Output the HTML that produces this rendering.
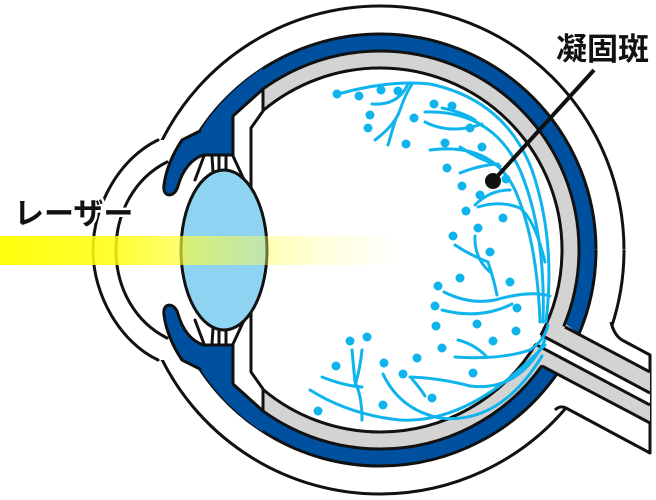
<!DOCTYPE html>
<html><head><meta charset="utf-8"><style>
html,body{margin:0;padding:0;background:#fff;}
svg{display:block;}
</style></head><body>
<svg width="656" height="500" viewBox="0 0 656 500" xmlns="http://www.w3.org/2000/svg">
<defs>
<linearGradient id="beam" x1="0" y1="0" x2="400" y2="0" gradientUnits="userSpaceOnUse">
<stop offset="0" stop-color="#ffff00" stop-opacity="0.95"/>
<stop offset="0.3" stop-color="#ffff10" stop-opacity="0.85"/>
<stop offset="0.55" stop-color="#ffff40" stop-opacity="0.55"/>
<stop offset="1" stop-color="#ffff80" stop-opacity="0"/>
</linearGradient>
</defs>
<circle cx="380" cy="250" r="244" fill="#fff"/>
<circle cx="380" cy="250" r="244" fill="none" stroke="#111" stroke-width="3" pathLength="360" stroke-dasharray="18.3 22 113.3 52.8 153.6"/>
<path d="M611,322 Q614,335 622,340 L650,355 L650,453 L566,408 Q560,405 555,410 L540,360 Z" fill="#fff"/>
<path d="M611,322 Q614,335 622,340 L650,355 L650,453 L566,408 Q560,405 555,410" fill="none" stroke="#111" stroke-width="3" stroke-linejoin="round"/>
<circle cx="380" cy="250" r="216" fill="#0050a0"/>
<circle cx="380" cy="250" r="199" fill="#d3d3d3"/>
<circle cx="380" cy="250" r="182" fill="#fff"/>
<polygon points="563,322 579,334 650,372 650,393 541,335" fill="#d3d3d3"/>
<polygon points="535,344 650,405 650,423 556,374 541,365" fill="#d3d3d3"/>
<polygon points="530,338 541,335 650,393 650,405 535,344" fill="#fff"/>
<g stroke="#111" stroke-width="3" fill="none">
<circle cx="380" cy="250" r="216" pathLength="360" stroke-dasharray="23 12 117.3 55.4 152.3"/>
<circle cx="380" cy="250" r="199" pathLength="360" stroke-dasharray="22.6 12.9 102.2 84.6 137.7"/>
<circle cx="380" cy="250" r="182" pathLength="360" stroke-dasharray="27.9 3.3 98.9 99.8 130.1"/>
<line x1="565" y1="327" x2="650" y2="372"/>
<line x1="541" y1="335" x2="650" y2="393"/>
<line x1="535" y1="344" x2="650" y2="405"/>
<line x1="542" y1="366" x2="650" y2="423"/>
</g>
<path d="M158,140 C120,158 93,205 93,250 C93,295 120,342 158,360 L200,360 L200,140 Z" fill="#fff"/>
<path d="M233,116 L233,155 L203,155 C190,160 182,172 178,186 C175,198 162,198 164,185 C166,170 172,155 180,145 L110,145 L110,355 L180,355 C172,345 166,330 164,315 C162,302 175,302 178,314 C182,328 190,340 203,345 L233,345 L233,384 L263,411 L263,89 Z" fill="#fff"/>
<!-- iris / anterior choroid blue -->
<g fill="#0050a0">
<path d="M263,89 L233,116 L233,155 L203,155 C190,160 182,172 178,186 C175,198 162,198 164,185 C166,170 172,155 182,140 L200,131 A216,216 0 0 1 263,68 Z"/>
<path d="M263,411 L233,384 L233,345 L203,345 C190,340 182,328 178,314 C175,302 162,302 164,315 C166,330 172,345 182,360 L200,369 A216,216 0 0 0 263,432 Z"/>
</g>
<g stroke="#111" stroke-width="3" fill="none" stroke-linejoin="round" stroke-linecap="round">
<path d="M263,89 L233,116 L233,155 L203,155 C190,160 182,172 178,186 C175,198 162,198 164,185 C166,170 172,155 182,140 L200,131"/>
<path d="M263,411 L233,384 L233,345 L203,345 C190,340 182,328 178,314 C175,302 162,302 164,315 C166,330 172,345 182,360 L200,369"/>
<path d="M158,140 C120,158 93,205 93,250 C93,295 120,342 158,360"/>
<path d="M167,162 C135,178 116,212 116,250 C116,288 135,322 167,338"/>
<path d="M263,89 L263,111 L251,128 L251,190"/>
<path d="M263,411 L263,389 L251,372 L251,310"/>
<path d="M204,156 L195,180 M212,156 L213,172 M219,156 L219,172 M226,156 L226,172 M233,156 L246,184"/>
<path d="M204,344 L195,320 M212,344 L213,328 M219,344 L219,328 M226,344 L226,328 M233,344 L246,316"/>
</g>
<ellipse cx="224" cy="250" rx="43" ry="80" fill="#8fd3f3" stroke="#111" stroke-width="3"/>
<g stroke="#10b4ec" stroke-width="3" fill="none" stroke-linecap="round">
<path d="M342,93 Q390,80 430,84 Q505,100 532,170 Q556,240 546,322"/>
<path d="M425,112 Q492,110 520,170 Q546,232 543,322"/>
<path d="M430,150 Q492,142 515,190 Q537,240 540,322"/>
<path d="M372,104 Q398,106 408,84"/>
<path d="M375,140 Q395,125 400,110 Q405,95 412,84"/>
<path d="M388,145 L396,118"/>
<path d="M425,122 Q450,135 482,124"/>
<path d="M442,108 Q462,112 475,120"/>
<path d="M460,147 Q480,160 500,166"/>
<path d="M460,173 Q480,165 498,164"/>
<path d="M475,205 Q490,190 510,190"/>
<path d="M478,207 Q500,200 520,208 Q535,220 545,262"/>
<path d="M455,245 Q470,255 488,262 Q494,280 497,295"/>
<path d="M475,236 Q474,258 490,272"/>
<path d="M444,292 Q470,305 495,300 Q530,290 550,296"/>
<path d="M442,310 Q480,320 512,304"/>
<path d="M455,357 Q500,360 530,350 Q545,340 548,325"/>
<path d="M458,340 Q474,344 486,356"/>
<path d="M410,377 Q440,378 470,386 Q520,392 545,340"/>
<path d="M412,379 Q420,388 425,396"/>
<path d="M383,374 Q400,410 440,418 Q500,425 542,356"/>
<path d="M310,390 Q350,415 400,420 Q470,424 545,345"/>
<path d="M322,377 Q345,386 362,387"/>
<path d="M352,350 L355,382 Q362,396 362,420"/>
<path d="M362,350 Q360,370 355,385"/>
</g>
<g fill="#10b4ec">
<circle cx="337" cy="94" r="4.5"/><circle cx="359" cy="96" r="4.5"/><circle cx="381" cy="90" r="4.5"/><circle cx="398" cy="91" r="4.5"/>
<circle cx="370" cy="115" r="4.5"/><circle cx="368" cy="128" r="4.5"/><circle cx="406" cy="144" r="4.5"/><circle cx="414" cy="118" r="4.5"/>
<circle cx="434" cy="104" r="4.5"/><circle cx="452" cy="106" r="4.5"/><circle cx="470" cy="128" r="4.5"/><circle cx="445" cy="143" r="4.5"/>
<circle cx="482" cy="147" r="4.5"/><circle cx="447" cy="168" r="4.5"/><circle cx="462" cy="186" r="4.5"/><circle cx="506" cy="179" r="4.5"/>
<circle cx="480" cy="195" r="4.5"/><circle cx="466" cy="211" r="4.5"/><circle cx="503" cy="218" r="4.5"/><circle cx="478" cy="228" r="4.5"/>
<circle cx="453" cy="236" r="4.5"/><circle cx="490" cy="252" r="4.5"/><circle cx="460" cy="278" r="4.5"/><circle cx="438" cy="286" r="4.5"/>
<circle cx="510" cy="282" r="4.5"/><circle cx="435" cy="306" r="4.5"/><circle cx="517" cy="308" r="4.5"/><circle cx="436" cy="326" r="4.5"/>
<circle cx="477" cy="324" r="4.5"/><circle cx="516" cy="331" r="4.5"/><circle cx="442" cy="348" r="4.5"/><circle cx="493" cy="341" r="4.5"/>
<circle cx="417" cy="358" r="4.5"/><circle cx="473" cy="373" r="4.5"/><circle cx="403" cy="374" r="4.5"/><circle cx="432" cy="398" r="4.5"/>
<circle cx="384" cy="363" r="4.5"/><circle cx="383" cy="405" r="4.5"/><circle cx="350" cy="341" r="4.5"/><circle cx="367" cy="337" r="4.5"/>
<circle cx="336" cy="366" r="4.5"/><circle cx="318" cy="411" r="4.5"/>
</g>
<rect x="0" y="236" width="400" height="29" fill="url(#beam)"/>
<line x1="493" y1="181" x2="594" y2="70" stroke="#111" stroke-width="4"/>
<circle cx="493" cy="181" r="8" fill="#111"/>
<text x="14" y="224" font-family="'Liberation Sans','Noto Sans CJK JP',sans-serif" font-size="30" font-weight="bold" fill="#111" stroke="#fff" stroke-width="5" paint-order="stroke" stroke-linejoin="round">レーザー</text>
<text x="556" y="60" font-family="'Liberation Sans','Noto Sans CJK JP',sans-serif" font-size="31" font-weight="bold" fill="#111">凝固斑</text>
</svg>
</body></html>
